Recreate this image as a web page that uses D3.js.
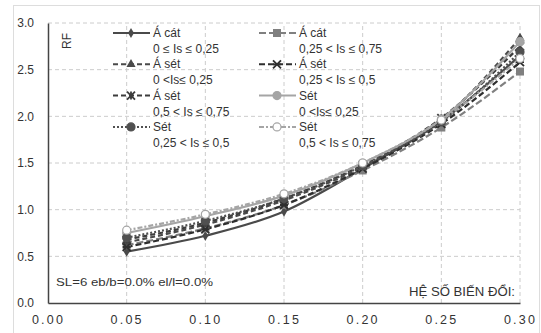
<!DOCTYPE html>
<html>
<head>
<meta charset="utf-8">
<script src="https://cdn.jsdelivr.net/npm/d3@7"></script>
<style>
  body { margin: 0; background: #fff; }
  svg { font-family: "Liberation Sans", Arial, sans-serif; }
</style>
</head>
<body>
<div id="chart"></div>
<script>
// x values (hệ số biến đổi)
const xValues = [0.05, 0.10, 0.15, 0.20, 0.25, 0.30];

const seriesNames = [
  ["Á cát", "0 ≤ Is ≤ 0,25"],
  ["Á cát", "0,25 < Is ≤ 0,75"],
  ["Á sét", "0 <Is≤ 0,25"],
  ["Á sét", "0,25 < Is ≤ 0,5"],
  ["Á sét", "0,5 < Is ≤ 0,75"],
  ["Sét", "0 <Is≤ 0,25"],
  ["Sét", "0,25 < Is ≤ 0,5"],
  ["Sét", "0,5 < Is ≤ 0,75"]
];

const acat1 = [0.55, 0.72, 0.98, 1.44, 1.95, 2.65];
const acat2 = [0.62, 0.80, 1.05, 1.42, 1.88, 2.48];
const aset1 = [0.65, 0.84, 1.10, 1.46, 1.96, 2.84];
const aset2 = [0.60, 0.79, 1.05, 1.44, 1.92, 2.58];
const aset3 = [0.68, 0.86, 1.12, 1.48, 1.98, 2.75];
const set1 = [0.75, 0.93, 1.15, 1.50, 1.97, 2.80];
const set2 = [0.70, 0.88, 1.12, 1.47, 1.94, 2.69];
const set3 = [0.78, 0.95, 1.17, 1.50, 1.96, 2.62];

const xTicks = [0, 0.05, 0.10, 0.15, 0.20, 0.25, 0.30];
const yTicks = [0, 0.5, 1.0, 1.5, 2.0, 2.5, 3.0];

// styles per series (legend order: column 1 = 0,2,4,6 ; column 2 = 1,3,5,7)
const styles = [
  {values: acat1, color: "#4a4a4a", dash: null, marker: "diamond", mfill: "#4a4a4a"},
  {values: acat2, color: "#808080", dash: "7,3", marker: "square", mfill: "#808080"},
  {values: aset1, color: "#4a4a4a", dash: "5,3", marker: "triangle", mfill: "#4a4a4a"},
  {values: aset2, color: "#2e2e2e", dash: "6,3", marker: "asterisk", mfill: "#2e2e2e"},
  {values: aset3, color: "#3c3c3c", dash: "5,3", marker: "star", mfill: "#3c3c3c"},
  {values: set1, color: "#a5a5a5", dash: null, marker: "circle", mfill: "#a5a5a5"},
  {values: set2, color: "#505050", dash: "2,2", marker: "circle", mfill: "#505050"},
  {values: set3, color: "#a5a5a5", dash: "5,2,2,2", marker: "circle", mfill: "#fff"}
];

const width = 541, height = 333;

const svg = d3.select('#chart').append('svg')
  .attr('width', width)
  .attr('height', height);

// outer frame
svg.append('rect')
  .attr('x', 13.5).attr('y', 5.5)
  .attr('width', 526).attr('height', 330)
  .attr('fill', 'none')
  .attr('stroke', '#ddd');

const x = d3.scaleLinear().domain([0, 0.30]).range([48, 520]);
const y = d3.scaleLinear().domain([0, 3.0]).range([303, 23]);

// gridlines
svg.append('g').selectAll('line.h')
  .data(yTicks.slice(1))
  .enter().append('line')
  .attr('x1', x(0)).attr('x2', x(0.30))
  .attr('y1', d => y(d)).attr('y2', d => y(d))
  .attr('stroke', '#ccc').attr('stroke-dasharray', '4,3');

svg.append('g').selectAll('line.v')
  .data(xTicks.slice(1))
  .enter().append('line')
  .attr('x1', d => x(d)).attr('x2', d => x(d))
  .attr('y1', y(0)).attr('y2', y(3))
  .attr('stroke', '#ccc').attr('stroke-dasharray', '4,3');

// axes
const xAxis = svg.append('g')
  .attr('transform', 'translate(0,' + y(0) + ')')
  .call(d3.axisBottom(x).tickValues(xTicks).tickFormat(d3.format('.2f')).tickSize(0).tickPadding(12));
xAxis.select('.domain').attr('stroke', '#444').attr('stroke-width', 1.5);
xAxis.selectAll('text')
  .attr('font-size', 12.5)
  .attr('fill', '#333')
  .attr('letter-spacing', 2.2);

const yAxis = svg.append('g')
  .attr('transform', 'translate(' + x(0) + ',0)')
  .call(d3.axisLeft(y).tickValues(yTicks).tickFormat(d3.format('.1f')).tickSize(0).tickPadding(14));
yAxis.select('.domain').attr('stroke', '#444').attr('stroke-width', 1.5);
yAxis.selectAll('text').attr('font-size', 12).attr('fill', '#333');

// RF label
svg.append('text')
  .attr('transform', 'translate(71,41) rotate(-90)')
  .attr('text-anchor', 'middle')
  .attr('font-size', 12)
  .attr('fill', '#333')
  .text('RF');

// markers
function drawMarker(g, type, cx, cy, s) {
  if (type === 'diamond') {
    g.append('path').attr('d', d3.symbol(d3.symbolDiamond, 30)())
      .attr('transform', `translate(${cx},${cy})`).attr('fill', s.mfill);
  } else if (type === 'square') {
    g.append('rect').attr('x', cx - 4).attr('y', cy - 4).attr('width', 8).attr('height', 8)
      .attr('fill', s.mfill);
  } else if (type === 'triangle') {
    g.append('path').attr('d', d3.symbol(d3.symbolTriangle, 36)())
      .attr('transform', `translate(${cx},${cy})`).attr('fill', s.mfill);
  } else if (type === 'asterisk') {
    g.append('path').attr('d', `M${cx-4},${cy-4}L${cx+4},${cy+4}M${cx-4},${cy+4}L${cx+4},${cy-4}M${cx-4},${cy}L${cx+4},${cy}`)
      .attr('stroke', s.mfill).attr('stroke-width', 1.8);
  } else if (type === 'star') {
    g.append('path').attr('d', `M${cx-4},${cy-4}L${cx+4},${cy+4}M${cx-4},${cy+4}L${cx+4},${cy-4}M${cx},${cy-4}L${cx},${cy+4}`)
      .attr('stroke', s.mfill).attr('stroke-width', 1.8);
  } else if (type === 'circle') {
    g.append('circle').attr('cx', cx).attr('cy', cy).attr('r', 4)
      .attr('fill', s.mfill).attr('stroke', s.color).attr('stroke-width', 1.2);
  }
}

const line = d3.line()
  .x((d, i) => x(xValues[i]))
  .y(d => y(d))
  .curve(d3.curveMonotoneX);

const plot = svg.append('g');
styles.forEach(s => {
  plot.append('path')
    .attr('d', line(s.values))
    .attr('fill', 'none')
    .attr('stroke', s.color)
    .attr('stroke-width', 2.2)
    .attr('stroke-dasharray', s.dash);
});
styles.forEach(s => {
  s.values.forEach((v, i) => drawMarker(plot, s.marker, x(xValues[i]), y(v), s));
});

// legend
const legend = svg.append('g').attr('font-size', 12).attr('fill', '#333');
styles.forEach((s, i) => {
  const col = i % 2;
  const row = Math.floor(i / 2);
  const lx = col === 0 ? 113 : 259;
  const ly = 33 + row * 31.3;
  legend.append('line')
    .attr('x1', lx).attr('x2', lx + 37)
    .attr('y1', ly).attr('y2', ly)
    .attr('stroke', s.color).attr('stroke-width', 2)
    .attr('stroke-dasharray', s.dash);
  drawMarker(legend, s.marker, lx + 18, ly, s);
  legend.append('text')
    .attr('x', lx + 40).attr('y', ly + 4)
    .attr('fill', '#333')
    .text(seriesNames[i][0]);
  legend.append('text')
    .attr('x', lx + 40).attr('y', ly + 20)
    .attr('fill', '#333')
    .text(seriesNames[i][1]);
});

// annotations
svg.append('text')
  .attr('x', 56).attr('y', 286)
  .attr('font-size', 11)
  .attr('fill', '#333')
  .attr('textLength', 157)
  .attr('lengthAdjust', 'spacingAndGlyphs')
  .text('SL=6 eb/b=0.0% el/l=0.0%');

svg.append('text')
  .attr('x', 515).attr('y', 296)
  .attr('text-anchor', 'end')
  .attr('font-size', 12)
  .attr('fill', '#333')
  .attr('textLength', 106)
  .attr('lengthAdjust', 'spacingAndGlyphs')
  .text('HỆ SỐ BIẾN ĐỔI:');
</script>
</body>
</html>
